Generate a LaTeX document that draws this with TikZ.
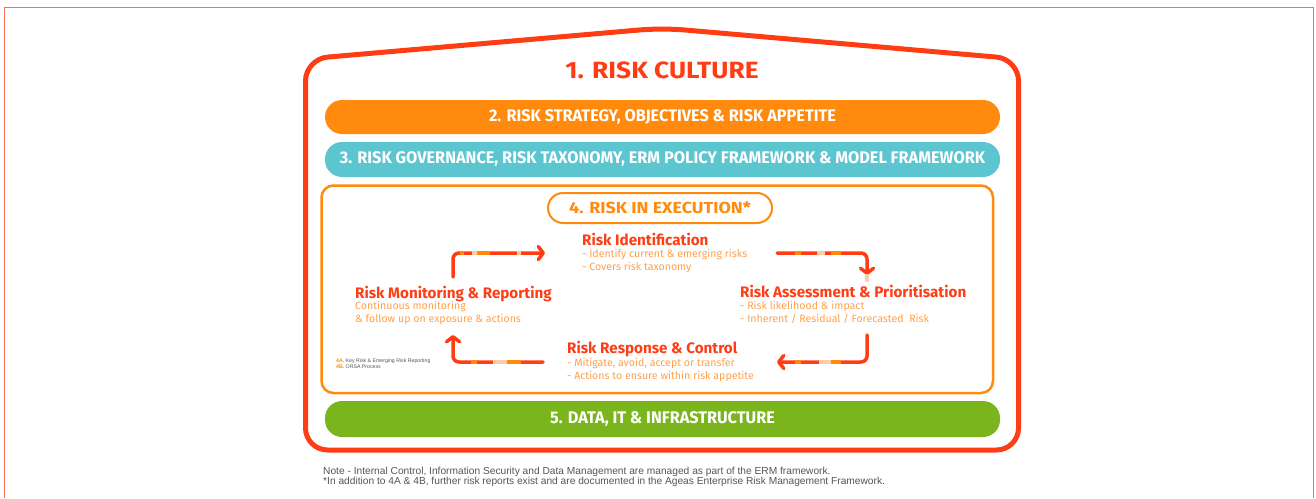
\documentclass[tikz,border=0pt]{standalone}
\usepackage{fontspec}
\usepackage{xcolor}
\setmainfont{Fira Sans}
\newfontfamily\condfont[FakeStretch=0.97]{Fira Sans}
\newfontfamily\culturefont[FakeStretch=1.12]{Fira Sans}
\newfontfamily\notefont{Liberation Sans}
\usetikzlibrary{arrows.meta}

\definecolor{riskred}{HTML}{FF3D14}
\definecolor{riskorange}{HTML}{FF8A0D}
\definecolor{risklight}{HTML}{FFA04A}
\definecolor{riskpale}{HTML}{FFCCA8}
\definecolor{riskteal}{HTML}{5BC6D0}
\definecolor{riskgreen}{HTML}{7AB51D}
\definecolor{frameline}{HTML}{FF6E4F}
\definecolor{notegray}{HTML}{555555}

\tikzset{
    bar/.style={rounded corners=17pt, minimum width=675pt, inner sep=0pt, text=white,
        font=\condfont\bfseries\fontsize{16.8}{17}\selectfont},
    steptitle/.style={anchor=base west, inner sep=0pt, text=riskred,
        font=\bfseries\fontsize{15.2}{15}\selectfont},
    stepdesc/.style={anchor=base west, inner sep=0pt, text=risklight, align=left,
        font=\fontsize{10.6}{12.3}\selectfont},
    cyclearrow/.style={draw=riskred, line width=3.5pt, line cap=round, rounded corners=6pt,
        -{Straight Barb[length=5pt, width=13pt, round]}},
    flecks/.style={draw=#1, line width=3.5pt, rounded corners=6pt}
}

\begin{document}
\begin{tikzpicture}[x=1pt, y=-1pt]
    \useasboundingbox (0,0) rectangle (1316,498);

    % Page frame
    \draw[frameline, line width=1.5pt] (4.5,498) -- (4.5,7.5) -- (1313.5,7.5) -- (1313.5,498);

    % The house
    \draw[riskred, line width=5pt, rounded corners=22pt]
        (305.5,450) -- (305.5,59) -- (662,28) -- (1018.5,59) -- (1018.5,450) -- cycle;
    \node[text=riskred, font=\culturefont\bfseries\fontsize{23.5}{24}\selectfont, anchor=base]
        (culture) at (662,78) {1. RISK CULTURE};

    % Strategy, governance and data bars
    \node[bar, fill=riskorange, minimum height=34pt] (strategy) at (662.5,117)
        {2. RISK STRATEGY, OBJECTIVES \& RISK APPETITE};
    \node[bar, fill=riskteal, minimum height=35pt] (governance) at (662.5,159.5)
        {3. RISK GOVERNANCE, RISK TAXONOMY, ERM POLICY FRAMEWORK \& MODEL FRAMEWORK};
    \node[bar, fill=riskgreen, minimum height=36pt] (data) at (662.5,419)
        {5. DATA, IT \& INFRASTRUCTURE};

    % Risk in execution
    \draw[riskorange, line width=2.5pt, rounded corners=12pt] (321.5,185.5) rectangle (993,393);
    \node[draw=riskorange, line width=2pt, rounded corners=15pt, minimum width=224pt,
        minimum height=30pt, inner sep=0pt, text=riskorange,
        font=\culturefont\bfseries\fontsize{16}{16}\selectfont] (execution) at (660,208)
        {4. RISK IN EXECUTION*};

    % The four steps
    \node[steptitle] (ident) at (582,245) {Risk Identification};
    \node[stepdesc] (identdesc) at (582,270) {- Identify current \& emerging risks\\- Covers risk taxonomy};
    \node[steptitle] (assess) at (740,297) {Risk Assessment \& Prioritisation};
    \node[stepdesc] (assessdesc) at (740,322) {- Risk likelihood \& impact\\- Inherent / Residual / Forecasted\ \ Risk};
    \node[steptitle] (response) at (567,353) {Risk Response \& Control};
    \node[stepdesc] (responsedesc) at (567,379) {- Mitigate, avoid, accept or transfer\\- Actions to ensure within risk appetite};
    \node[steptitle] (monitor) at (355,298) {Risk Monitoring \& Reporting};
    \node[stepdesc] (monitordesc) at (355,322) {Continuous monitoring\\\& follow up on exposure \& actions};

    % Small legend
    \node[anchor=base west, inner sep=0pt, align=left, text=notegray,
        font=\notefont\fontsize{5.2}{6}\selectfont] (legend) at (336,368)
        {{\color{riskorange}\bfseries 4A.} Key Risk \& Emerging Risk Reporting\\{\color{riskorange}\bfseries 4B.} ORSA Process};

    % Arrow ends
    \coordinate (monitor-out) at (453,277);
    \coordinate (ident-in) at (545,253);
    \coordinate (ident-out) at (777,253);
    \coordinate (assess-in) at (867,275);
    \coordinate (assess-out) at (867,335);
    \coordinate (response-in) at (777,362);
    \coordinate (response-out) at (543,362);
    \coordinate (monitor-in) at (453,335);

    % The cycle
    \draw[cyclearrow] (monitor-out) |- (ident-in);
    \draw[cyclearrow] (ident-out) -| (assess-in);
    \draw[cyclearrow] (assess-out) |- (response-in);
    \draw[cyclearrow] (response-out) -| (monitor-in);
    \draw[flecks=riskorange, dash pattern=on 4pt off 12pt on 14pt off 50pt, dash phase=-28pt]
        (monitor-out) |- ([xshift=-8pt]ident-in);
    \draw[flecks=riskpale, dash pattern=on 5pt off 40pt on 4pt off 60pt, dash phase=-40pt]
        (monitor-out) |- ([xshift=-8pt]ident-in);
    \draw[flecks=riskorange, dash pattern=on 6pt off 30pt on 10pt off 60pt, dash phase=-18pt]
        (ident-out) -| ([yshift=-8pt]assess-in);
    \draw[flecks=riskpale, dash pattern=on 8pt off 60pt, dash phase=-40pt]
        (ident-out) -| ([yshift=-8pt]assess-in);
    \draw[flecks=riskorange, dash pattern=on 10pt off 30pt on 6pt off 60pt, dash phase=-50pt]
        (assess-out) |- ([xshift=8pt]response-in);
    \draw[flecks=riskpale, dash pattern=on 12pt off 80pt, dash phase=-60pt]
        (assess-out) |- ([xshift=8pt]response-in);
    \draw[flecks=riskorange, dash pattern=on 14pt off 30pt on 6pt off 60pt, dash phase=-22pt]
        (response-out) -| ([yshift=8pt]monitor-in);
    \draw[flecks=riskpale, dash pattern=on 14pt off 80pt, dash phase=-36pt]
        (response-out) -| ([yshift=8pt]monitor-in);

    % Notes
    \node[anchor=base west, inner sep=0pt, align=left, text=notegray,
        font=\notefont\fontsize{10.2}{10.5}\selectfont] (notes) at (323,484.5)
        {Note - Internal Control, Information Security and Data Management are managed as part of the ERM framework.\\
        *In addition to 4A \& 4B, further risk reports exist and are documented in the Ageas Enterprise Risk Management Framework.};
\end{tikzpicture}
\end{document}
